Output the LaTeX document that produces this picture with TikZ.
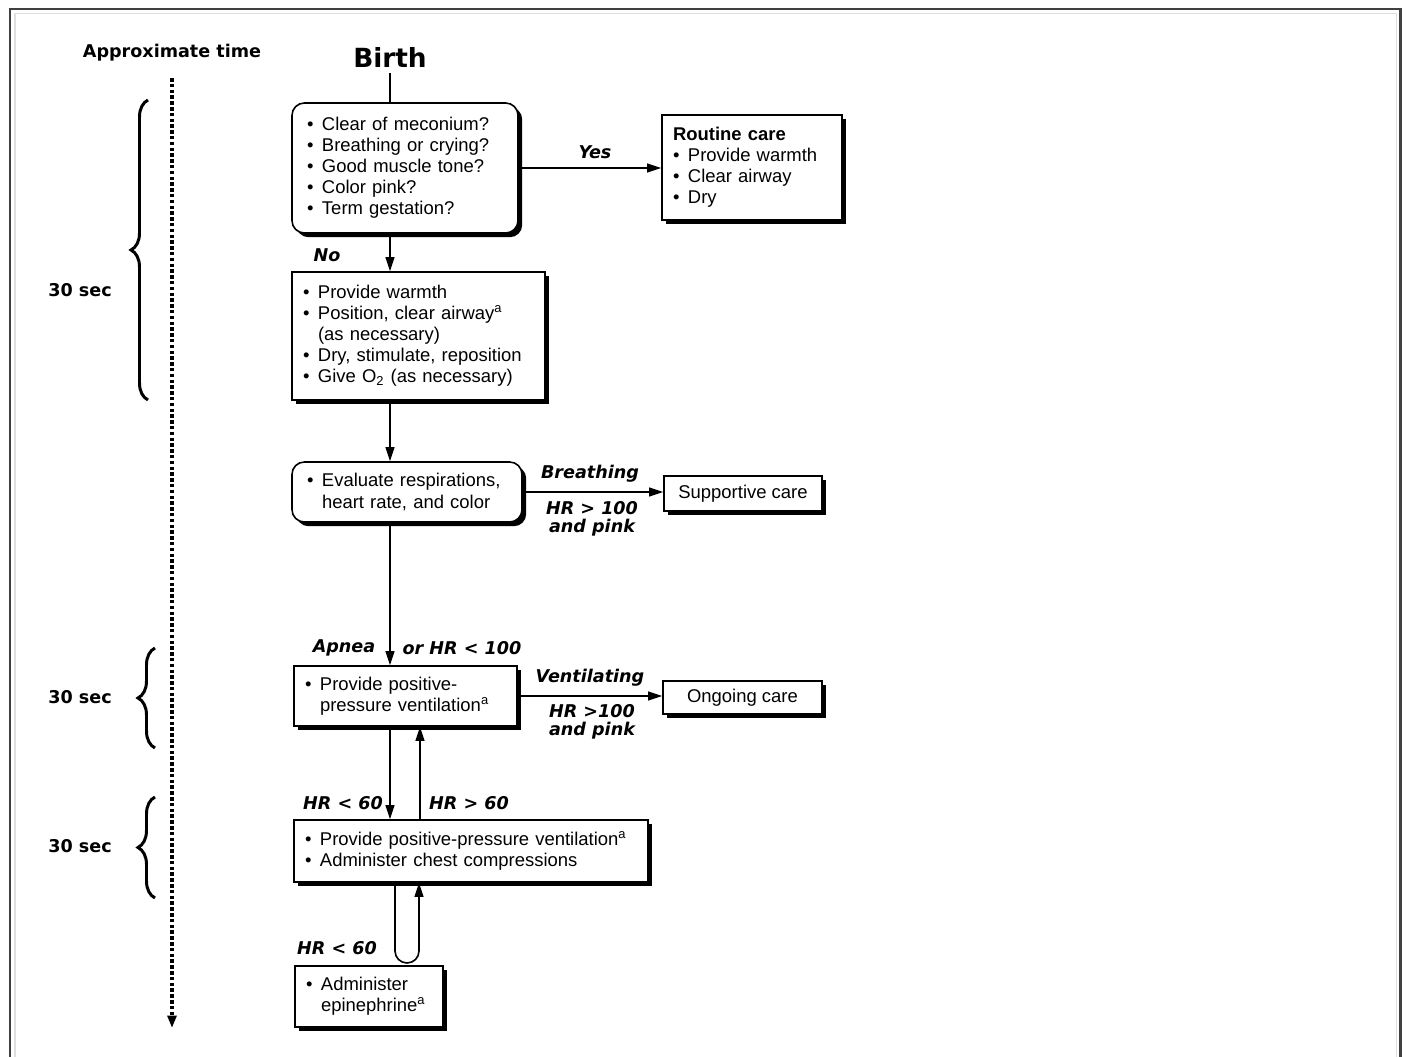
\documentclass[tikz,border=0pt]{standalone}
\usepackage{fontspec}
\setmainfont{Liberation Sans}
\newfontfamily\headfont{DejaVu Sans}
\usetikzlibrary{arrows.meta,shadows,decorations.pathreplacing}

\newcommand{\bulletmark}{\makebox[0.3cm][l]{\textbullet}}
\newcommand{\bulletgap}{\hspace*{0.3cm}}

\tikzset{
  box/.style={draw, line width=0.9pt, fill=white, align=left, inner xsep=0.22cm,
    font=\fontsize{10.5}{12}\selectfont,
    drop shadow={shadow xshift=2.4pt, shadow yshift=-2.4pt, opacity=1, fill=black}},
  rbox/.style={box, rounded corners=7pt},
  cond/.style={font=\headfont\bfseries\itshape\fontsize{10}{10.2}\selectfont, align=center},
  timelbl/.style={font=\headfont\bfseries\fontsize{10}{12}\selectfont},
  flow/.style={line width=0.9pt, -{Triangle[length=8pt,width=5pt]}},
  brc/.style={decorate, decoration={brace, amplitude=0.34cm}, line width=1.7pt}
}

\begin{document}
\begin{tikzpicture}
\useasboundingbox (0,0) rectangle (28.16,-21.14);
% frame
\draw[gray!25, line width=1pt] (0.3,-21.14) -- (0.3,-0.27) -- (27.93,-0.27) -- (27.93,-21.14);
\draw[black!75, line width=1.6pt] (0.2,-21.14) -- (0.2,-0.18) -- (28.01,-0.18) -- (28.01,-21.14);

% time column
\node[timelbl] (apptime) at (3.44,-1.06) {Approximate time};
\coordinate (tstart) at (3.44,-1.56);
\coordinate (tend) at (3.44,-20.56);
\draw[line width=2pt, dash pattern=on 2pt off 1.3pt, -{Triangle[length=7pt,width=5pt]}] (tstart) -- (tend);
\draw[brc] (2.96,-8.0) -- (2.96,-2.0);
\draw[brc] (3.1,-14.96) -- (3.1,-12.96);
\draw[brc] (3.1,-17.96) -- (3.1,-15.94);
\node[timelbl] (sec1) at (1.6,-5.8) {30 sec};
\node[timelbl] (sec2) at (1.6,-13.94) {30 sec};
\node[timelbl] (sec3) at (1.6,-16.92) {30 sec};

% boxes
\node[font=\headfont\bfseries\fontsize{15}{18}\selectfont] (birth) at (7.8,-1.14) {Birth};
\node[rbox, inner xsep=0.3cm, text width=3.92cm, minimum height=2.6cm] (assess) at (8.10,-3.36)
  {\bulletmark Clear of meconium?\\ \bulletmark Breathing or crying?\\ \bulletmark Good muscle tone?\\
   \bulletmark Color pink?\\ \bulletmark Term gestation?};
\node[box, text width=3.16cm, minimum height=2.1cm] (routine) at (15.04,-3.35)
  {\textbf{Routine care}\\ \bulletmark Provide warmth\\ \bulletmark Clear airway\\ \bulletmark Dry};
\node[box, text width=4.62cm, minimum height=2.56cm] (warm) at (8.37,-6.72)
  {\bulletmark Provide warmth\\ \bulletmark Position, clear airway\textsuperscript{a}\\
   \bulletgap(as necessary)\\ \bulletmark Dry, stimulate, reposition\\
   \bulletmark Give O\textsubscript{2} (as necessary)};
\node[rbox, inner xsep=0.3cm, text width=4.0cm, minimum height=1.2cm] (eval) at (8.14,-9.84)
  {\bulletmark Evaluate respirations,\\ \bulletgap heart rate, and color};
\node[box, align=center, minimum width=3.16cm, minimum height=0.7cm] (support) at (14.86,-9.87)
  {Supportive care};
\node[box, text width=4.02cm, minimum height=1.2cm] (ppv) at (8.11,-13.92)
  {\bulletmark Provide positive-\\ \bulletgap pressure ventilation\textsuperscript{a}};
\node[box, align=center, minimum width=3.18cm, minimum height=0.66cm] (ongoing) at (14.85,-13.95)
  {Ongoing care};
\node[box, text width=6.64cm, minimum height=1.24cm] (cpr) at (9.42,-17.02)
  {\bulletmark Provide positive-pressure ventilation\textsuperscript{a}\\
   \bulletmark Administer chest compressions};
\node[box, text width=2.52cm, minimum height=1.22cm] (epi) at (7.38,-19.93)
  {\bulletmark Administer\\ \bulletgap epinephrine\textsuperscript{a}};

% conditions
\node[cond] (yes) at (11.9,-3.04) {Yes};
\node[cond] (no) at (6.54,-5.10) {No};
\node[cond] (breath) at (11.8,-9.48) {Breathing};
\node[cond] (hrpink1) at (11.84,-10.38) {HR > 100\\and pink};
\node[cond] (apnea) at (6.88,-12.96) {Apnea};
\node[cond] (orhr) at (9.24,-12.96) {or HR < 100};
\node[cond] (vent) at (11.8,-13.56) {Ventilating};
\node[cond] (hrpink2) at (11.84,-14.44) {HR >100\\and pink};
\node[cond] (low1) at (6.86,-16.06) {HR < 60};
\node[cond] (high) at (9.38,-16.06) {HR > 60};
\node[cond] (low2) at (6.74,-18.96) {HR < 60};

% connectors
\coordinate (back) at (8.4,0);
\coordinate (loopl) at (7.9,-19.02);
\coordinate (loopr) at (8.38,-19.02);
\draw[line width=0.9pt] (birth) -- (assess.north -| birth);
\draw[flow] (assess.east) -- (assess.east -| routine.west);
\draw[flow] (assess.south -| birth) -- (warm.north -| birth);
\draw[flow] (warm.south -| birth) -- (eval.north -| birth);
\draw[flow] (eval.east) -- (eval.east -| support.west);
\draw[flow] (eval.south -| birth) -- (ppv.north -| birth);
\draw[flow] (ppv.east) -- (ppv.east -| ongoing.west);
\draw[flow] (ppv.south -| birth) -- (cpr.north -| birth);
\draw[flow] (cpr.north -| back) -- (ppv.south -| back);
\draw[flow] (cpr.south -| loopl) -- (loopl) arc[start angle=180, end angle=360, radius=0.24cm] -- (cpr.south -| loopr);
\end{tikzpicture}
\end{document}
